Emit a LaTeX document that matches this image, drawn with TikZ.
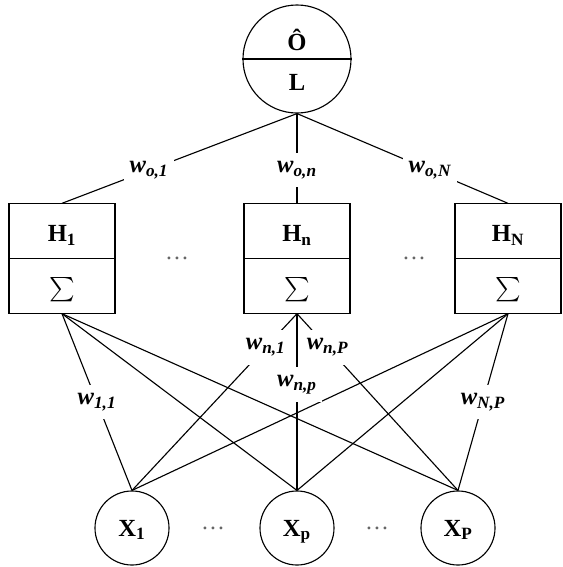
\documentclass[tikz,border=0pt]{standalone}
\usepackage{amsmath}
\usepackage{fontspec}
\setmainfont{Liberation Serif}
\usetikzlibrary{calc}

\begin{document}
\begin{tikzpicture}[x=0.025cm,y=-0.025cm,line width=0.8pt,
    unit/.style={draw,circle,minimum size=1.85cm,inner sep=0pt},
    hid/.style={draw,rectangle,minimum width=2.65cm,minimum height=2.73cm,inner sep=0pt},
    lbl/.style={font=\fontsize{17.5}{20}\selectfont\bfseries,inner sep=0pt},
    wt/.style={fill=white,inner xsep=4pt,inner ysep=6pt,font=\fontsize{17.5}{20}\selectfont\bfseries\itshape},
    gap/.style={text=black!60,inner sep=0pt,font=\fontsize{17}{20}\selectfont}]
  \useasboundingbox (0,0) rectangle (562,567);
  % output unit
  \node[unit,minimum size=2.7cm] (out) at (297,59) {};
  \draw (out.west) -- (out.east);
  \node[lbl,anchor=base] (ohat) at (297,50) {Ô};
  \node[lbl,anchor=base] (loss) at (297,90) {L};
  % hidden units
  \node[hid] (h1) at (62,258.5) {};
  \node[hid] (hn) at (297,258.5) {};
  \node[hid] (hN) at (508,258.5) {};
  \foreach \h/\s in {h1/1,hn/n,hN/N}{
    \draw (\h.west) -- (\h.east);
    \node[lbl,anchor=base] (\h t) at ($(\h.center)+(0,-17)$) {H\textsubscript{\s}};
    \node[inner sep=0pt,font=\fontsize{18}{20}\selectfont] (\h s) at ($(\h.center)+(0,31)$) {$\sum$};
  }
  \node[gap,anchor=base] (d1) at (177,259) {…};
  \node[gap,anchor=base] (d2) at (414,259) {…};
  % input units
  \node[unit] (x1) at (132,528) {};
  \node[unit] (xp) at (297,528) {};
  \node[unit] (xP) at (458,528) {};
  \foreach \x/\s in {x1/1,xp/p,xP/P}
    \node[lbl,anchor=base] (\x t) at ($(\x.center)+(0,8)$) {X\textsubscript{\s}};
  \node[gap,anchor=base] (d3) at (213,529) {…};
  \node[gap,anchor=base] (d4) at (377,529) {…};
  % output weights
  \draw (out.south) -- (h1.north) node[wt,pos=.63] {w\textsubscript{o,1}};
  \draw (out.south) -- (hn.north) node[wt,pos=.63] {w\textsubscript{o,n}};
  \draw (out.south) -- (hN.north) node[wt,pos=.63] {w\textsubscript{o,N}};
  % hidden weights
  \foreach \h in {h1,hn,hN}
    \foreach \x in {x1,xp,xP}
      \draw (\h.south) -- (\x.north);
  \path (h1.south) -- (x1.north) node[wt,pos=.5] {w\textsubscript{1,1}};
  \path (hn.south) -- (x1.north) node[wt,pos=.19] {w\textsubscript{n,1}};
  \path (hn.south) -- (xp.north) node[wt,pos=.40] {w\textsubscript{n,p}};
  \path (hn.south) -- (xP.north) node[wt,pos=.19] {w\textsubscript{n,P}};
  \path (hN.south) -- (xP.north) node[wt,pos=.5] {w\textsubscript{N,P}};
\end{tikzpicture}
\end{document}
